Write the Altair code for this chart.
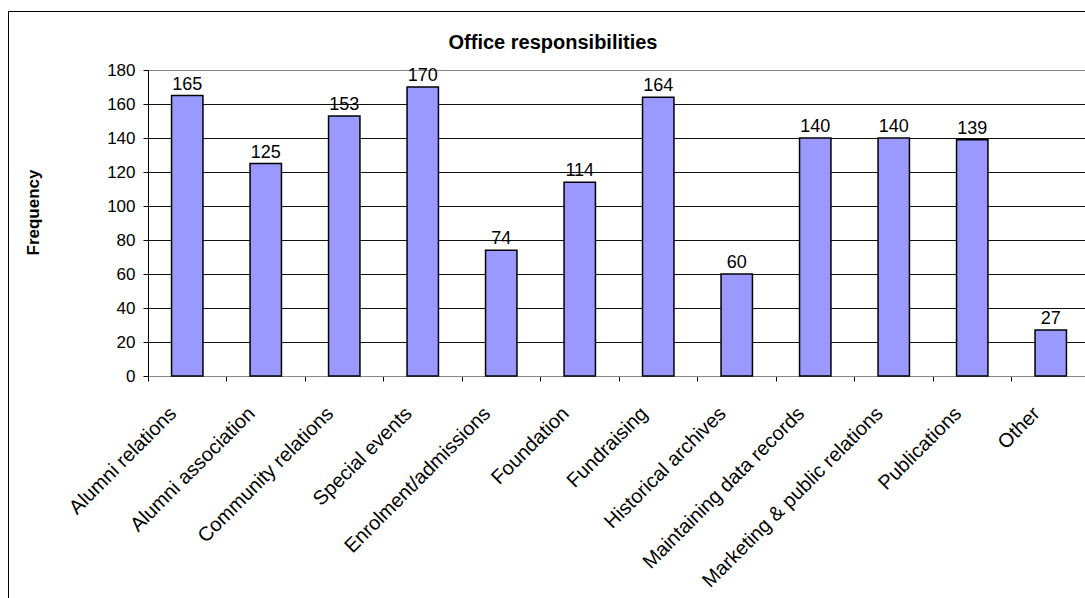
import altair as alt
import pandas as pd

categories = [
    "Alumni relations", "Alumni association", "Community relations",
    "Special events", "Enrolment/admissions", "Foundation", "Fundraising",
    "Historical archives", "Maintaining data records",
    "Marketing & public relations", "Publications", "Other",
]
values = [165, 125, 153, 170, 74, 114, 164, 60, 140, 140, 139, 27]
y_ticks = [0, 20, 40, 60, 80, 100, 120, 140, 160, 180]
chart_title = "Office responsibilities"

df = pd.DataFrame({"cat": categories, "value": values})

FONT = "Liberation Sans"

x_enc = alt.X(
    "cat:N",
    sort=categories,
    scale=alt.Scale(paddingInner=0, paddingOuter=0, range=[0, 942]),
    axis=alt.Axis(
        title=None,
        labelAngle=-45,
        labelAlign="right",
        labelBaseline="top",
        labelFont=FONT,
        labelFontSize=20,
        labelColor="#000",
        labelOverlap=False,
        labelLimit=0,
        labelFlush=False,
        labelPadding=22,
        bandPosition=0,
        labelOffset=-21,
        tickSize=5,
        tickColor="#000",
        domainColor="#888",
        grid=False,
    ),
)
y_enc = alt.Y(
    "value:Q",
    scale=alt.Scale(domain=[0, 180], nice=False, zero=True),
    axis=alt.Axis(
        values=y_ticks,
        title="Frequency",
        titleFont=FONT,
        titleFontSize=17,
        titleFontWeight="bold",
        titleColor="#000",
        titleAngle=270,
        titleAlign="center",
        titleBaseline="middle",
        titleX=-115,
        titleY=142,
        labelFont=FONT,
        labelFontSize=17,
        labelColor="#000",
        labelPadding=8,
        labelOverlap=False,
        labelFlush=False,
        labelBound=False,
        tickSize=5,
        tickColor="#000",
        domainColor="#000",
        grid=True,
        gridColor={"condition": {"test": "datum.value === 180", "value": "#888"}, "value": "#111"},
        gridWidth=1,
    ),
)

base = alt.Chart(df).encode(x=x_enc, y=y_enc)

bars = base.mark_bar(
    color="#9999FF", stroke="#000", strokeWidth=1.5, width=alt.RelativeBandSize(0.4)
)

labels = base.mark_text(
    baseline="bottom", dy=-2, font=FONT, fontSize=18, color="#000"
).encode(text="value:Q")

one = alt.Data(values=[{}])
title_mark = alt.Chart(one).mark_text(
    font=FONT, fontSize=20, fontWeight="bold", color="#000",
    align="center", baseline="bottom",
).encode(x=alt.value(405), y=alt.value(-17), text=alt.value(chart_title))

border = alt.Chart(one).mark_rule(color="#000", strokeWidth=1)
left_border = border.encode(x=alt.value(-139.5), y=alt.value(-58.5), y2=alt.value(600))
top_border = border.encode(x=alt.value(-139.5), x2=alt.value(1100), y=alt.value(-58.5))

chart = alt.layer(bars, labels, title_mark, left_border, top_border).properties(
    width=937,
    height=306,
    autosize=alt.AutoSizeParams(type="none"),
    padding={"left": 148, "top": 70, "right": 0, "bottom": 222},
).configure_view(stroke=None).configure(background="white")

chart.save("out.html", embed_options={"renderer": "svg", "actions": False})
